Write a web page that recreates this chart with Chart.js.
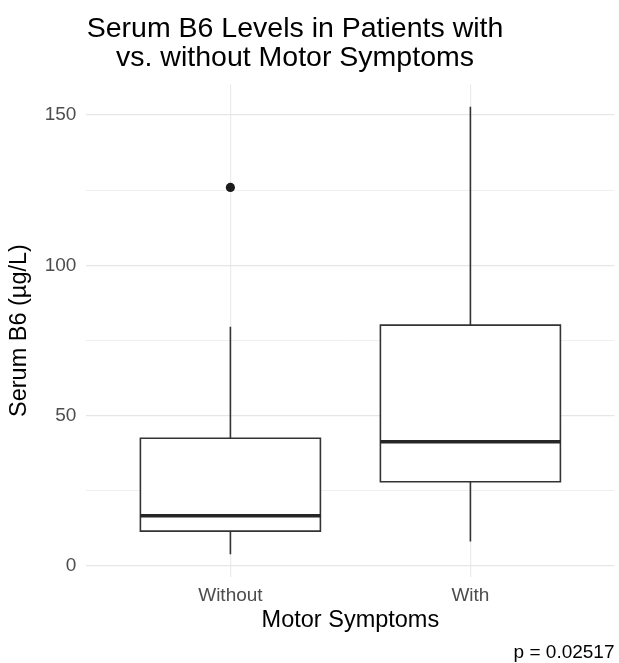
<!DOCTYPE html>
<html>
<head>
<meta charset="utf-8">
<script src="https://cdn.jsdelivr.net/npm/chart.js@4/dist/chart.umd.min.js"></script>
<style>
  html, body { margin: 0; padding: 0; background: #ffffff; }
  #wrap { width: 619px; height: 663px; }
</style>
</head>
<body>
<div id="wrap"><canvas id="chart" width="619" height="663"></canvas></div>
<script>
// Serum B6 summary statistics per group (µg/L)
const groups = ['Without', 'With'];
const whiskerLow = [3.9, 8.1];
const q1 = [11.6, 28.0];
const median = [16.7, 41.3];
const q3 = [42.5, 80.1];
const whiskerHigh = [79.6, 152.7];
const outliers = [[125.9], []];

// Axis ticks
const yMajorTicks = [0, 50, 100, 150];
const yMinorTicks = [25, 75, 125];

const titleLines = ['Serum B6 Levels in Patients with', 'vs. without Motor Symptoms'];
const xTitle = 'Motor Symptoms';
const yTitle = 'Serum B6 (\u00b5g/L)';
const pValue = '0.02517';

const FONT = "'Liberation Sans', Arial, Helvetica, sans-serif";
const INK = '#333333';
const BOX_HALF = 0.375;

// Category positions on a continuous axis, with ggplot-like padding
const xPos = groups.map((g, i) => i + 1);
const xMin = 1 - 0.6;
const xMax = groups.length + 0.6;

// y range: data extent expanded by 5% on each side
const allVals = whiskerLow.concat(whiskerHigh, ...outliers);
const lo = Math.min(...allVals), hi = Math.max(...allVals);
const padY = (hi - lo) * 0.05;

const datasets = [];

groups.forEach((g, i) => {
  const x = xPos[i];
  // box
  datasets.push({
    type: 'scatter', showLine: true, order: 4,
    data: [
      { x: x - BOX_HALF, y: q1[i] }, { x: x - BOX_HALF, y: q3[i] },
      { x: x + BOX_HALF, y: q3[i] }, { x: x + BOX_HALF, y: q1[i] },
      { x: x - BOX_HALF, y: q1[i] }
    ],
    borderColor: INK, borderWidth: 1.6, backgroundColor: '#ffffff',
    fill: 'shape', pointRadius: 0, tension: 0,
    borderJoinStyle: 'miter', borderCapStyle: 'square'
  });
  // upper whisker
  datasets.push({
    type: 'scatter', showLine: true, order: 3,
    data: [{ x: x, y: q3[i] }, { x: x, y: whiskerHigh[i] }],
    borderColor: INK, borderWidth: 1.6, pointRadius: 0, fill: false
  });
  // lower whisker
  datasets.push({
    type: 'scatter', showLine: true, order: 3,
    data: [{ x: x, y: whiskerLow[i] }, { x: x, y: q1[i] }],
    borderColor: INK, borderWidth: 1.6, pointRadius: 0, fill: false
  });
  // median
  datasets.push({
    type: 'scatter', showLine: true, order: 2,
    data: [{ x: x - BOX_HALF, y: median[i] }, { x: x + BOX_HALF, y: median[i] }],
    borderColor: '#262626', borderWidth: 3.4, pointRadius: 0, fill: false
  });
});

// outlying observations
datasets.push({
  type: 'scatter', order: 1,
  data: outliers.flatMap((vals, i) => vals.map(v => ({ x: xPos[i], y: v }))),
  pointRadius: 4.6, pointBackgroundColor: '#1c1c1c', pointBorderWidth: 0
});

// Title and p-value text
const annotations = {
  id: 'annotations',
  afterDraw(chart) {
    const ctx = chart.ctx;
    ctx.save();
    ctx.fillStyle = '#000000';
    ctx.textAlign = 'center';
    ctx.textBaseline = 'alphabetic';
    ctx.font = '28.5px ' + FONT;
    ctx.fillText(titleLines[0], 295, 36.5);
    ctx.fillText(titleLines[1], 295, 66);
    ctx.textAlign = 'right';
    ctx.font = '19px ' + FONT;
    ctx.fillText('p = ' + pValue, 614.5, 658);
    ctx.restore();
  }
};

new Chart(document.getElementById('chart'), {
  type: 'scatter',
  data: { datasets },
  options: {
    responsive: false,
    animation: false,
    events: [],
    layout: { padding: { top: 84.5, right: 2.4, bottom: 0, left: 0 } },
    plugins: {
      legend: { display: false },
      tooltip: { enabled: false },
      title: { display: false }
    },
    scales: {
      x: {
        type: 'linear',
        min: xMin, max: xMax,
        afterBuildTicks: s => { s.ticks = xPos.map(v => ({ value: v })); },
        afterFit: s => { s.height = 86.4; },
        ticks: {
          callback: (v) => groups[Math.round(v) - 1] || '',
          color: '#4d4d4d',
          font: { family: FONT, size: 19 },
          padding: 8,
          maxRotation: 0, autoSkip: false
        },
        grid: { color: '#ebebeb', lineWidth: 1.2, drawTicks: false },
        border: { display: false },
        title: {
          display: true, text: xTitle, color: '#000000',
          font: { family: FONT, size: 23.5 },
          padding: { top: 0, bottom: 28 }
        }
      },
      y: {
        type: 'linear',
        min: lo - padY, max: hi + padY,
        afterBuildTicks: s => {
          s.ticks = yMajorTicks.concat(yMinorTicks).sort((a, b) => a - b).map(v => ({ value: v }));
        },
        afterFit: s => { s.width = 86.4; },
        ticks: {
          callback: (v) => yMajorTicks.includes(v) ? String(v) : '',
          color: '#4d4d4d',
          font: { family: FONT, size: 19 },
          padding: 10,
          autoSkip: false
        },
        grid: {
          drawTicks: false,
          color: c => (c.tick && yMajorTicks.includes(c.tick.value)) ? '#e6e6e6' : '#efefef',
          lineWidth: c => (c.tick && yMajorTicks.includes(c.tick.value)) ? 1.2 : 1
        },
        border: { display: false },
        title: {
          display: true, text: yTitle, color: '#000000',
          font: { family: FONT, size: 23.5 },
          padding: { top: 5, bottom: 0 }
        }
      }
    }
  },
  plugins: [annotations]
});
</script>
</body>
</html>
